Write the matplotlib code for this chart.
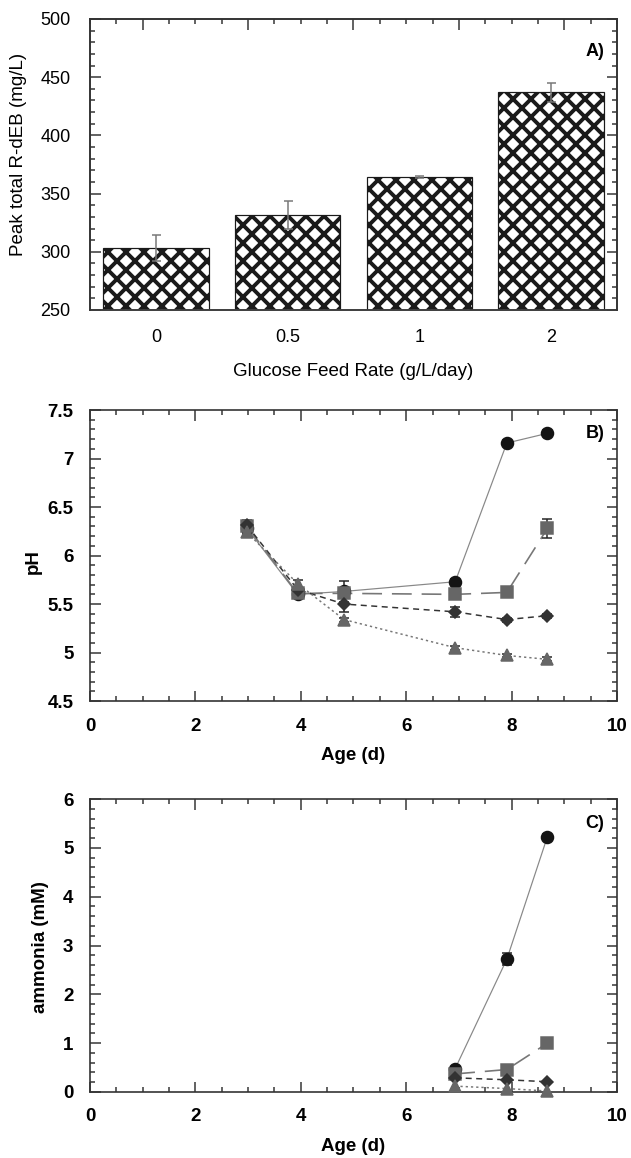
import matplotlib.pyplot as plt
from matplotlib.ticker import MultipleLocator, FuncFormatter

# data
feed_rates = ['0', '0.5', '1', '2']
peak_rdeb = [303, 332, 364, 437]
peak_err = [11, 12, 1, 8]

age = [2.98, 3.94, 4.82, 6.93, 7.91, 8.68]
ph_circle = [6.28, 5.60, 5.63, 5.73, 7.16, 7.26]
ph_square = [6.30, 5.61, 5.61, 5.60, 5.62, 6.28]
ph_diamond = [6.31, 5.65, 5.50, 5.42, 5.34, 5.38]
ph_triangle = [6.24, 5.71, 5.34, 5.05, 4.97, 4.93]
ph_circle_err = [0.06, 0.03, 0.11, 0.03, 0.03, 0.03]
ph_square_err = [0.07, 0.03, 0.03, 0.02, 0.02, 0.10]
ph_diamond_err = [0.05, 0.03, 0.08, 0.05, 0.02, 0.02]
ph_triangle_err = [0.03, 0.04, 0.02, 0.02, 0.02, 0.02]

age_nh3 = [6.93, 7.91, 8.68]
nh3_circle = [0.48, 2.72, 5.23]
nh3_square = [0.37, 0.46, 1.00]
nh3_diamond = [0.29, 0.25, 0.21]
nh3_triangle = [0.12, 0.07, 0.02]
nh3_circle_err = [0.03, 0.12, 0.05]

plt.rcParams['hatch.linewidth'] = 2.6
plt.rcParams['font.family'] = ['Liberation Sans', 'DejaVu Sans']

fig = plt.figure(figsize=(631 / 108, 1158 / 108), dpi=108)
axA = fig.add_axes([0.1426, 0.7323, 0.8352, 0.2513])
axB = fig.add_axes([0.1426, 0.3946, 0.8352, 0.2513])
axC = fig.add_axes([0.1426, 0.0570, 0.8352, 0.2530])

spine_col = '#333333'
fmt = FuncFormatter(lambda v, p: f'{v:g}')

# ---- panel A
x = range(len(feed_rates))
axA.bar(x, peak_rdeb, width=0.8, color='white', edgecolor='#1a1a1a',
        linewidth=0.8, hatch='xx', zorder=2)
axA.errorbar(x, peak_rdeb, yerr=peak_err, fmt='none', ecolor='#777777',
             elinewidth=1, capsize=3, capthick=1, zorder=3)
axA.set_xlim(-0.5, 3.5)
axA.set_ylim(250, 500)
axA.set_xticks(list(x))
axA.set_xticklabels(feed_rates, fontsize=12)
axA.yaxis.set_major_locator(MultipleLocator(50))
axA.yaxis.set_minor_locator(MultipleLocator(10))
axA.tick_params(axis='x', length=0, pad=13)
axA.tick_params(axis='y', which='both', direction='in', right=True, pad=13,
                labelsize=12, color=spine_col)
axA.tick_params(axis='y', which='major', length=7, width=1)
axA.tick_params(axis='y', which='minor', length=3.5, width=1)
axA.text(0.958, 0.887, 'A)', transform=axA.transAxes, ha='center', va='center',
         fontsize=12, fontweight='bold')
top = axA.twiny()
top.set_xlim(0, 20)
top.set_xticks([2, 6, 10, 14, 18])
top.xaxis.set_minor_locator(MultipleLocator(1))
top.tick_params(axis='x', which='both', direction='in', labeltop=False, color=spine_col)
top.tick_params(axis='x', which='major', length=7, width=1)
top.tick_params(axis='x', which='minor', length=3.5, width=1)
for ax in (axA, top):
    for s in ax.spines.values():
        s.set_color(spine_col)
        s.set_linewidth(1.1)
axA.spines['bottom'].set_color('#777777')
fig.text(0.030, 0.867, 'Peak total R-dEB (mg/L)', rotation=90, ha='center', va='center',
         fontsize=12.5)
fig.text(0.56, 0.679, 'Glucose Feed Rate (g/L/day)', ha='center', va='center',
         fontsize=12.5)


def series(ax, xs, ys, errs, marker, mcol, lcol, ls, ms, lw=0.9):
    line, = ax.plot(xs, ys, color=lcol, lw=lw, zorder=2)
    if ls is not None:
        line.set_dashes(ls)
    if errs is not None:
        ax.errorbar(xs, ys, yerr=errs, fmt='none', ecolor='#222222', elinewidth=1,
                    capsize=3.5, capthick=1, zorder=3)
    ax.plot(xs, ys, ls='none', marker=marker, ms=ms, mfc=mcol, mec=mcol, zorder=4,
            clip_on=False)


def style(ax, ymaj, ymin, ylo, yhi, tag, tag_y):
    ax.set_xlim(0, 10)
    ax.set_ylim(ylo, yhi)
    ax.xaxis.set_major_locator(MultipleLocator(2))
    ax.xaxis.set_minor_locator(MultipleLocator(0.5))
    ax.yaxis.set_major_locator(MultipleLocator(ymaj))
    ax.yaxis.set_minor_locator(MultipleLocator(ymin))
    ax.xaxis.set_major_formatter(fmt)
    ax.yaxis.set_major_formatter(fmt)
    ax.tick_params(which='both', direction='in', top=True, right=True, color=spine_col,
                   labelsize=12.5)
    ax.tick_params(which='major', length=7, width=1)
    ax.tick_params(which='minor', length=3.5, width=1)
    ax.tick_params(axis='x', pad=11)
    ax.tick_params(axis='y', pad=11)
    for lab in ax.get_xticklabels() + ax.get_yticklabels():
        lab.set_fontweight('bold')
    for s in ax.spines.values():
        s.set_color(spine_col)
        s.set_linewidth(1.1)
    ax.text(0.958, tag_y, tag, transform=ax.transAxes, ha='center', va='center',
            fontsize=12, fontweight='bold')


# ---- panel B
series(axB, age, ph_circle, ph_circle_err, 'o', '#141414', '#888888', None, 8, 0.8)
series(axB, age, ph_square, ph_square_err, 's', '#666666', '#777777', (12, 6), 8, 1.1)
series(axB, age, ph_diamond, ph_diamond_err, 'D', '#333333', '#333333', (4, 3), 5.5, 1.0)
series(axB, age, ph_triangle, ph_triangle_err, '^', '#666666', '#777777', (1.5, 2), 7.5, 1.0)
style(axB, 0.5, 0.1, 4.5, 7.5, 'B)', 0.921)
fig.text(0.053, 0.515, 'pH', rotation=90, ha='center', va='center', fontsize=12.5,
         fontweight='bold')
fig.text(0.56, 0.348, 'Age (d)', ha='center', va='center', fontsize=12.5, fontweight='bold')

# ---- panel C
series(axC, age_nh3, nh3_circle, nh3_circle_err, 'o', '#141414', '#888888', None, 8, 0.8)
series(axC, age_nh3, nh3_square, None, 's', '#666666', '#777777', (12, 6), 8, 1.1)
series(axC, age_nh3, nh3_diamond, None, 'D', '#333333', '#333333', (4, 3), 5.5, 1.0)
series(axC, age_nh3, nh3_triangle, None, '^', '#666666', '#777777', (1.5, 2), 7.5, 1.0)
style(axC, 1, 0.2, 0, 6, 'C)', 0.918)
fig.text(0.064, 0.182, 'ammonia (mM)', rotation=90, ha='center', va='center',
         fontsize=12.5, fontweight='bold')
fig.text(0.56, 0.0095, 'Age (d)', ha='center', va='center', fontsize=12.5, fontweight='bold')

fig.savefig('out.png', dpi=108)
